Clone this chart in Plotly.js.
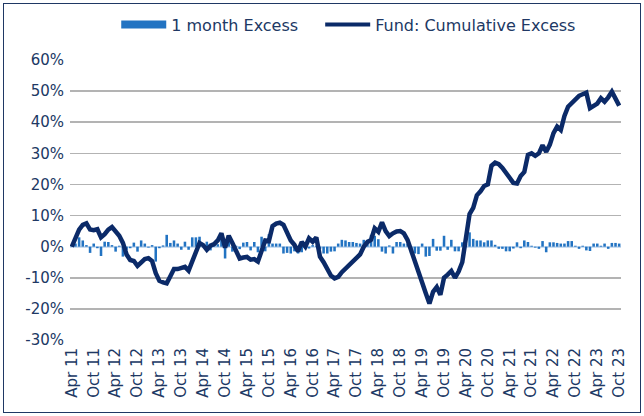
<!DOCTYPE html>
<html>
<head>
<meta charset="utf-8">
<script src="https://cdn.plot.ly/plotly-3.0.1.min.js"></script>
<style>
  html, body { margin: 0; padding: 0; background: #ffffff; }
  #wrap { position: relative; width: 644px; height: 416px; }
  #chart { position: absolute; left: 0; top: 0; width: 644px; height: 416px; }
  #frame { position: absolute; left: 3px; top: 3px; width: 636px; height: 408px;
           border: 1px solid #1f3864; pointer-events: none; }
</style>
</head>
<body>
<div id="wrap"><div id="chart"></div><div id="frame"></div></div>
<script>
// Monthly series: Apr 2011 .. Oct 2023 (151 months)
const startYear = 2011;
const startMonth = 3; // April (0-based)
const monthNames = ["Jan","Feb","Mar","Apr","May","Jun","Jul","Aug","Sep","Oct","Nov","Dec"];

// Fund: Cumulative Excess (%)
const cumulativeExcess = [
  0, 2.5, 5.5, 7, 7.5, 5.5, 5.3, 5.6, 3, 4,
  5.5, 6.3, 5, 3.5, 1.2, -2.5, -4.3, -4.6, -6.2, -5.2,
  -4, -3.7, -4.6, -8.5, -11, -11.5, -11.8, -9.5, -7.2, -7.2,
  -7, -6.5, -7.7, -4.8, -1.5, 1.2, 0.5, -1, 0.3, 0.8,
  2, 4.3, -0.3, 3.5, 1.2, -1.5, -3.8, -3.5, -3.3, -4.2,
  -4, -4.8, -1.1, 2, 1.8, 6.6, 7.4, 7.7, 7, 4.5,
  2, 0.6, -1.5, 1.5, 0, 2.7, 1.6, 3, -3.2, -5,
  -7.3, -9.3, -10.2, -9.7, -8.2, -7, -6.2, -5, -3.5, -2.5,
  0, 1.5, 2.2, 5.9, 4.8, 7.8, 5, 3.4, 4.3, 4.9,
  5, 4.3, 2.2, -1, -4.3, -8, -11.5, -15, -18.3, -14.5,
  -13, -15.5, -10, -9, -7.8, -10, -8, -5, 3, 10.5,
  12.5, 16.5, 17.8, 19.5, 20, 26, 27, 26.5, 25.3, 23.8,
  22, 20.5, 20.3, 22.7, 24, 29.5, 30, 29.2, 30, 32.6,
  30.5, 32.8, 36.5, 38.6, 37.5, 42, 45, 46.1, 47.5, 48.5,
  49, 49.5, 44.5, 45.2, 46, 47.7, 46.6, 48, 49.8, 47.6,
  45.3
];

// 1 month Excess (%)
const monthlyExcess = [
  0.5, 1, 3, 2, 0.5, -2, 1, -0.5, -3, 1.6,
  1.5, 0.5, -1.6, 0.3, -3.2, -1, -0.5, 1.3, -1.6, 2,
  1, -0.3, 0.5, -4.8, -0.5, 0.4, 3.8, 1.2, 2, 1,
  -1, 1.6, -1, 3, 3, 3.2, 0.5, 1.6, -1.2, 0.5,
  0.8, 4.3, -3.8, 3, -1.6, 0.3, -0.8, 1.3, 1.5, -1.2,
  1.5, -1.8, 3.2, -1.5, 4, 1, 1, 1, -2.2, -2,
  -2.2, -1.5, -2.2, -1.8, 1, -0.6, 0.5, 0.3, -0.8, -2.2,
  -2.2, -1.6, -1.5, 1, 2.2, 2, 1.5, 1.5, 1.2, 1,
  2.2, 2.2, 3.8, 3.5, 2.4, -1.6, -2.2, 0.4, -2.2, 1.5,
  1.5, 1, 1, -2.2, -2.2, -2.4, 1, -3.2, -3, 2.5,
  -1.3, -1.3, 3.5, -1, 2.2, -1.5, -1.5, 1.4, 0.8, 4.6,
  2.5, 2, 2, 1.4, 2, 2, 0.6, -0.7, -0.7, -1.5,
  -1.5, -0.6, 1.4, -0.5, 2, 1.5, 0.3, -0.3, -0.7, 1.8,
  -1.8, 1.4, 1.4, 1.2, 1, 1, 1.8, 1.8, 0.3, -0.7,
  0.3, -1.2, -1.4, 1, 1, 0.3, 1, -0.7, 1.2, 1.2,
  1
];

const tickLabels = ["Apr 11","Oct 11","Apr 12","Oct 12","Apr 13","Oct 13","Apr 14","Oct 14",
  "Apr 15","Oct 15","Apr 16","Oct 16","Apr 17","Oct 17","Apr 18","Oct 18","Apr 19","Oct 19",
  "Apr 20","Oct 20","Apr 21","Oct 21","Apr 22","Oct 22","Apr 23","Oct 23"];

const yTickVals = [-30, -20, -10, 0, 10, 20, 30, 40, 50, 60];

const categories = cumulativeExcess.map((_, i) => {
  const m = startMonth + i;
  const y = startYear + Math.floor(m / 12);
  return monthNames[m % 12] + " " + String(y % 100).padStart(2, "0");
});

const navy = "#0b2a68";
const blue = "#2273c2";
const textColor = "#203864";
const font = "DejaVu Sans, sans-serif";

const traces = [
  {
    type: "bar", x: categories, y: monthlyExcess, name: "1 month Excess",
    marker: { color: blue }, showlegend: false, hoverinfo: "x+y"
  },
  {
    type: "scatter", mode: "lines", x: categories, y: cumulativeExcess,
    name: "Fund: Cumulative Excess", line: { color: navy, width: 4.5 }, showlegend: false
  },
  // legend entries
  { type: "scatter", mode: "lines", x: [null], y: [null], name: "1 month Excess",
    line: { color: blue, width: 8 }, legend: "legend" },
  { type: "scatter", mode: "lines", x: [null], y: [null], name: "Fund: Cumulative Excess",
    line: { color: navy, width: 4 }, legend: "legend2" }
];

const legendBase = {
  orientation: "h", xref: "container", xanchor: "left",
  yref: "container", y: 0.9, yanchor: "bottom",
  font: { family: font, size: 16, color: textColor },
  itemwidth: 45, bgcolor: "rgba(0,0,0,0)"
};

const layout = {
  width: 644, height: 416,
  margin: { l: 70, r: 23, t: 60, b: 76, pad: 0 },
  paper_bgcolor: "#ffffff", plot_bgcolor: "#ffffff",
  font: { family: font, size: 15, color: textColor },
  bargap: 0.3,
  showlegend: true,
  legend: Object.assign({}, legendBase, { x: 0.1805 }),
  legend2: Object.assign({}, legendBase, { x: 0.4972 }),
  xaxis: {
    type: "category", categoryorder: "array", categoryarray: categories,
    range: [-0.5, categories.length - 0.5],
    tickmode: "array", tickvals: tickLabels, ticktext: tickLabels,
    tickangle: -90, showgrid: false, zeroline: false, showline: false,
    ticks: "", ticklen: 0, ticklabelstandoff: 4,
    tickfont: { family: font, size: 15, color: textColor },
    automargin: false
  },
  yaxis: {
    range: [-30, 60], tickmode: "array", tickvals: yTickVals,
    ticktext: yTickVals.map(v => v + "%"),
    showgrid: true, gridcolor: "#b3b3b3", gridwidth: 1.5,
    zeroline: true, zerolinecolor: "#c9dcf0", zerolinewidth: 2,
    showline: false, ticks: "", ticklabelstandoff: 5,
    tickfont: { family: font, size: 15, color: textColor },
    automargin: false
  }
};

Plotly.newPlot("chart", traces, layout, { staticPlot: true, displayModeBar: false });
</script>
</body>
</html>
